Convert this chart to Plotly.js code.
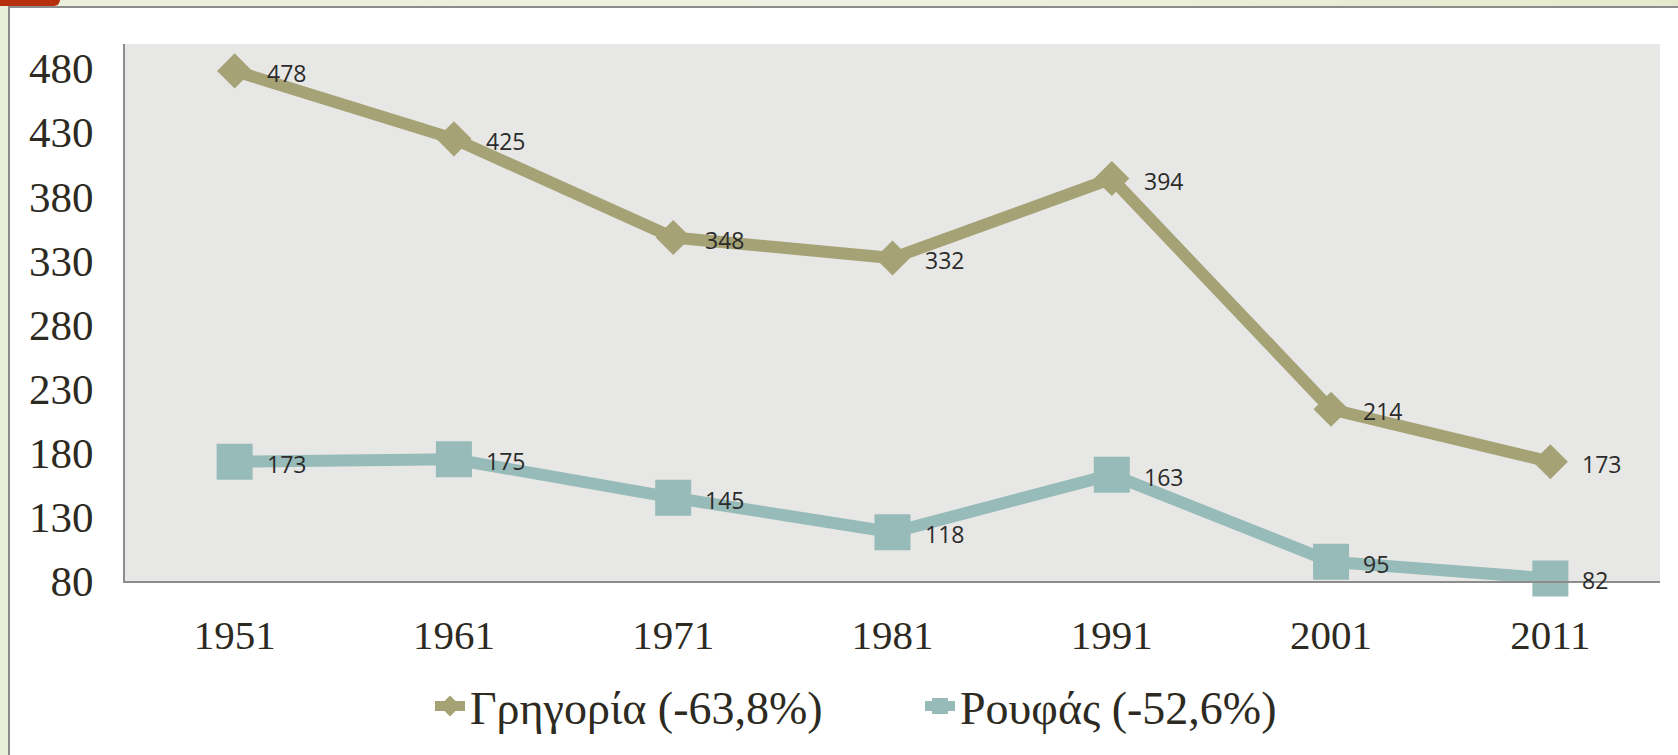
<!DOCTYPE html>
<html>
<head>
<meta charset="utf-8">
<script src="https://cdn.plot.ly/plotly-3.0.1.min.js"></script>
<style>
  html, body { margin: 0; padding: 0; width: 1678px; height: 755px; overflow: hidden; }
  body { background: linear-gradient(90deg, #e9efd9 0%, #eef2e2 50%, #e4ebcd 100%); position: relative; }
  #redtab { position: absolute; left: 0; top: 0; width: 60px; height: 6px; background: #b5300f; border-bottom-right-radius: 6px; }
  #panel { position: absolute; left: 8px; top: 6px; width: 1672px; height: 752px; background: #ffffff; border-left: 2px solid #8c8c8c; border-top: 2px solid #8c8c8c; }
  #chart { position: absolute; left: 0; top: 0; width: 1678px; height: 755px; }
</style>
</head>
<body>
<div id="redtab"></div>
<div id="panel"></div>
<div id="chart"></div>
<script>
const years = ['1951', '1961', '1971', '1981', '1991', '2001', '2011'];
const grigoria = [478, 425, 348, 332, 394, 214, 173];
const roufas = [173, 175, 145, 118, 163, 95, 82];
const seriesNames = ['Γρηγορία (-63,8%)', 'Ρουφάς (-52,6%)'];
const yTicks = [80, 130, 180, 230, 280, 330, 380, 430, 480];

const gold = '#a5a276';
const teal = '#97bbb9';
const textDark = '#2d2a22';
const serif = 'Liberation Serif';

const labelFont = { family: 'Open Sans', size: 23, color: '#2b2b2b' };

const traces = [
  {
    x: years, y: grigoria, name: seriesNames[0], type: 'scatter', mode: 'lines+markers',
    line: { color: gold, width: 12 },
    marker: { symbol: 'diamond', size: 27, color: gold },
    cliponaxis: false, hoverinfo: 'x+y'
  },
  {
    x: years, y: roufas, name: seriesNames[1], type: 'scatter', mode: 'lines+markers',
    line: { color: teal, width: 12 },
    marker: { symbol: 'square', size: 36, color: teal },
    cliponaxis: false, hoverinfo: 'x+y'
  }
];

// category axis: annotation x is the category index
function labels(vals) {
  return vals.map((v, i) => ({
    x: i, y: v, xref: 'x', yref: 'y', text: String(v), showarrow: false,
    xanchor: 'left', yanchor: 'middle', xshift: 30, yshift: -2,
    font: labelFont
  }));
}

const layout = {
  width: 1678, height: 755,
  margin: { l: 125, r: 18, t: 44, b: 172 },
  paper_bgcolor: 'rgba(0,0,0,0)',
  plot_bgcolor: '#e7e7e5',
  showlegend: true,
  font: { family: serif, color: textDark },
  xaxis: {
    type: 'category', categoryarray: years, range: [-0.5, 6.5],
    showgrid: false, zeroline: false,
    showline: true, linecolor: '#8c8c8c', linewidth: 2,
    ticks: 'outside', ticklen: 17, tickcolor: 'rgba(0,0,0,0)',
    tickfont: { family: serif, size: 41, color: textDark },
    fixedrange: true
  },
  yaxis: {
    range: [80, 499], tickmode: 'array', tickvals: yTicks, ticktext: yTicks.map(String),
    showgrid: false, zeroline: false,
    showline: true, linecolor: '#8c8c8c', linewidth: 2,
    ticks: 'outside', ticklen: 21, tickcolor: 'rgba(0,0,0,0)',
    tickfont: { family: serif, size: 43, color: textDark },
    fixedrange: true
  },
  legend: {
    orientation: 'h', x: 0.1987, xanchor: 'left', y: -0.233, yanchor: 'middle',
    font: { family: serif, size: 46, color: textDark },
    bgcolor: 'rgba(0,0,0,0)', itemwidth: 30, tracegroupgap: 0,
    entrywidth: 445, entrywidthmode: 'pixels'
  },
  annotations: labels(grigoria).concat(labels(roufas))
};

Plotly.newPlot('chart', traces, layout, { displayModeBar: false, staticPlot: true });
</script>
</body>
</html>
